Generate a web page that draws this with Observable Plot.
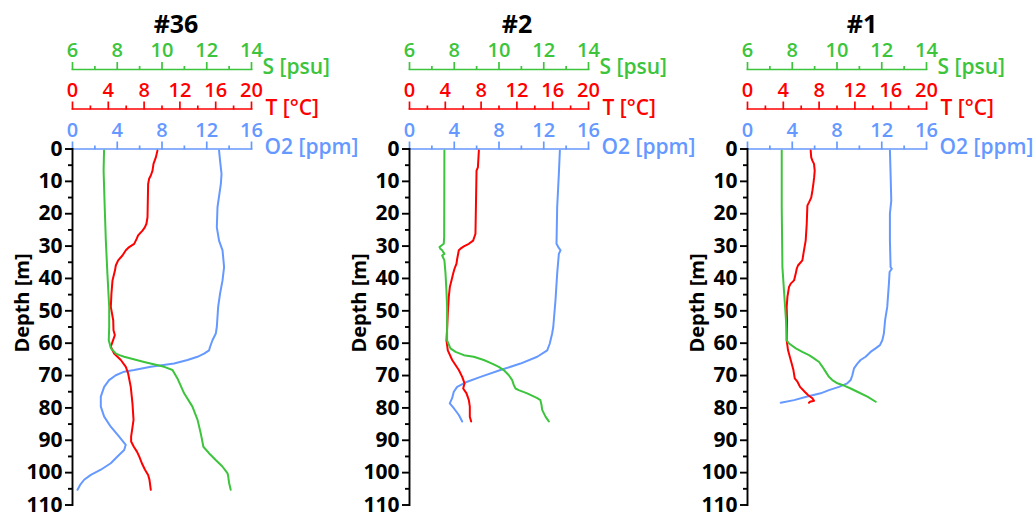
<!DOCTYPE html>
<html><head><meta charset="utf-8">
<script src="https://cdn.jsdelivr.net/npm/d3@7"></script>
<script src="https://cdn.jsdelivr.net/npm/@observablehq/plot@0.6"></script>
<style>
html,body{margin:0;padding:0;background:#fff;overflow:hidden}
#chart{position:relative;width:1036px;height:515px;overflow:hidden;background:#fff}
#chart svg{position:absolute;top:0}
</style></head><body><div id="chart"></div>
<script>
// ---- data: [depth (m), value] ----
const S36 = [[0.5,7.41],[6.7,7.39],[18,7.44],[28.3,7.49],[38.5,7.56],[48.8,7.64],[55,7.64],[59.1,7.62],[61.6,7.72],[63.2,7.94],[63.7,8.1],[64.2,8.31],[65.8,9.2],[67.3,10.1],[68.3,10.47],[70.9,10.69],[75.5,10.99],[79.6,11.36],[83.7,11.59],[87.8,11.73],[92,11.85],[94,12.1],[96.1,12.4],[98.1,12.7],[100.2,12.93],[101.2,12.96],[103.2,13.0],[105.3,13.07]];
const T36 = [[0.5,9.49],[2.6,9.31],[4.6,9.05],[6.7,8.94],[8.2,8.75],[9.2,8.56],[10.8,8.45],[21.1,8.38],[23.1,8.26],[24.2,8.08],[25.2,7.82],[26.7,7.33],[27.7,7.18],[29.3,6.89],[30.3,6.33],[31.3,5.96],[32.9,5.58],[34.4,5.1],[36.0,4.84],[37.5,4.75],[40.6,4.47],[44.7,4.35],[48.8,4.28],[52.9,4.55],[56,4.58],[57.5,4.73],[59.6,4.47],[61.1,4.28],[63.2,4.65],[65.2,5.4],[67.3,5.96],[69.3,6.21],[73.5,6.51],[78.6,6.7],[83.7,6.82],[88.9,6.55],[90.4,6.55],[92,6.85],[93.5,7.2],[95,7.45],[97.1,7.75],[99.1,8.1],[100.7,8.45],[102.2,8.6],[105.3,8.75]];
const O36 = [[0.5,13.1],[3.6,13.19],[7.7,13.32],[10.8,13.26],[18,12.96],[24.2,12.9],[28.3,13.1],[31.3,13.41],[36.5,13.55],[40.6,13.41],[44.7,13.19],[48.8,13.02],[55,12.9],[57,12.81],[59.1,12.51],[61.1,12.3],[62.2,12.21],[63.2,11.76],[64.2,11.17],[65.2,10.28],[66.3,9.08],[67.3,7.0],[68.3,5.51],[68.8,4.62],[69.9,3.87],[71.4,3.27],[73.5,2.83],[76.5,2.53],[79.6,2.53],[82.7,2.83],[85.8,3.42],[88.9,4.17],[91.4,4.76],[93,4.62],[95,4.02],[97.1,3.42],[99.1,2.53],[100.7,1.64],[102.2,1.04],[103.8,0.68],[105.3,0.45]];

const S2 = [[0.5,7.56],[27.2,7.55],[29.3,7.53],[30.3,7.34],[30.8,7.38],[31.3,7.46],[32.4,7.56],[32.9,7.46],[34.4,7.56],[38.5,7.61],[43.7,7.65],[48.8,7.68],[59.1,7.68],[61.6,7.83],[62.7,8.06],[63.7,8.43],[64.2,8.87],[65.2,9.32],[66.3,9.69],[67.3,9.99],[68.3,10.21],[69.9,10.44],[71.4,10.59],[72.9,10.66],[74.0,10.74],[74.5,10.88],[75.5,11.26],[77.0,11.71],[77.6,11.85],[79.1,11.9],[80.6,11.93],[82.7,12.08],[83.7,12.18],[84.2,12.23]];
const T2 = [[0.5,7.75],[5.7,7.64],[6.7,7.49],[26.2,7.37],[28.3,7.11],[29.3,6.63],[30.1,6.07],[30.8,5.7],[31.3,5.51],[32.9,5.4],[33.9,5.33],[35.4,5.25],[37.0,5.03],[38.5,4.88],[40.6,4.69],[42.6,4.51],[45.7,4.39],[50.8,4.28],[55,4.21],[59.1,4.13],[62.2,4.28],[65.2,4.77],[68.3,5.51],[70.4,5.89],[72.4,6.15],[74.0,6.0],[75.5,6.37],[77.6,6.63],[79.6,6.74],[82.7,6.74],[84.2,6.89]];
const O2 = [[0.5,13.44],[7.7,13.35],[18,13.2],[29.3,13.14],[30.3,13.3],[31.3,13.5],[32.4,13.35],[38.5,13.2],[46.7,13.05],[55,12.85],[57,12.75],[60.1,12.54],[62.2,12.31],[64.2,11.42],[66.3,9.92],[68.3,8.13],[70.4,6.35],[71.9,5.16],[73.5,4.26],[75,3.96],[77,3.81],[78.6,3.6],[80.1,3.96],[82.2,4.41],[84.2,4.71]];

const S1 = [[0.5,7.53],[18,7.53],[36.5,7.56],[44.7,7.64],[52.9,7.72],[59.1,7.75],[60.1,7.86],[61.6,8.16],[62.7,8.45],[63.7,8.75],[64.7,8.97],[65.8,9.2],[67.3,9.35],[68.8,9.49],[70.4,9.64],[71.4,9.79],[72.4,10.02],[72.9,10.24],[74.0,10.61],[75.0,10.91],[76.5,11.36],[78.1,11.73]];
const T1 = [[0.5,7.06],[2.6,7.12],[3.6,7.25],[4.6,7.43],[6.7,7.51],[8.7,7.45],[10.8,7.36],[12.9,7.25],[15.0,7.12],[16.5,6.87],[17.5,6.69],[23.1,6.62],[28.3,6.5],[31.3,6.31],[34.4,6.13],[36.0,5.64],[37.0,5.5],[38.5,5.39],[40.6,5.2],[41.6,4.83],[42.6,4.64],[45.7,4.46],[48.8,4.38],[52.9,4.42],[59.1,4.38],[62.2,4.53],[65.2,4.83],[68.3,5.13],[70.9,5.28],[71.9,5.58],[73.5,5.87],[75.0,6.39],[76.0,6.76],[77.0,7.25],[77.8,7.43],[78.1,6.98],[78.4,6.87]];
const O1 = [[0.5,12.73],[7.7,12.79],[16,12.85],[20,12.73],[28.3,12.73],[36.5,12.79],[37,12.9],[38,12.7],[41.6,12.64],[48.8,12.49],[52.9,12.3],[57,12.19],[59.1,12.05],[60.6,11.84],[61.6,11.45],[62.7,11.0],[64.2,10.56],[65.2,10.11],[66.3,9.82],[67.8,9.52],[69.9,9.37],[71.4,9.22],[72.4,8.92],[73.5,8.18],[74.5,7.28],[75.5,6.54],[76.5,5.35],[77.6,4.16],[78.4,2.97]];

const stations = ["#36", "#2", "#1"];
const salinity = [S36, S2, S1];
const temperature = [T36, T2, T1];
const oxygen = [O36, O2, O1];

const sTicks = [6, 8, 10, 12, 14], sMinor = [7, 9, 11, 13];
const tTicks = [0, 4, 8, 12, 16, 20], tMinor = [2, 6, 10, 14, 18];
const oTicks = [0, 4, 8, 12, 16], oMinor = [2, 6, 10, 14];
const depthTicks = [0, 10, 20, 30, 40, 50, 60, 70, 80, 90, 100, 110];
const depthMinor = [5, 15, 25, 35, 45, 55, 65, 75, 85, 95, 105];

// ---- styling / layout ----
const GREEN = "#3cc43c", RED = "#ff0000", BLUE = "#6699ff";
const FONT = "'Open Sans', 'DejaVu Sans', sans-serif";
const panelLeft = [0, 337, 675];
const titleDx = [14, 18, 25];
const FRAME_W = 179, ML = 72, H = 515;
const Y_RANGE = [148.5, 504.5];

const chart = document.getElementById("chart");

function variablePlot(p, cfg) {
  const W = p === 2 ? 1036 - panelLeft[p] : 400;
  const marks = [
    Plot.frame({anchor: "top", stroke: cfg.color, strokeWidth: 1.7}),
    Plot.axisX(cfg.ticks, {anchor: "top", label: null, color: cfg.color, fill: "none", tickSize: 8, strokeWidth: 1.7}),
    Plot.axisX(cfg.minor, {anchor: "top", label: null, color: cfg.color, fill: "none", tickSize: 4, strokeWidth: 1.7}),
    Plot.text(cfg.ticks, {x: d => d, frameAnchor: "top", textAnchor: "middle", lineAnchor: "bottom", dy: -(8 + cfg.pad), fill: cfg.color, fontSize: 20, fontWeight: 600}),
    Plot.text([cfg.label], {frameAnchor: "top-right", textAnchor: "start", lineAnchor: "bottom", dx: cfg.labelDx, dy: cfg.labelDy, fill: cfg.color, fontSize: 21, fontWeight: 600}),
    Plot.line(cfg.data, {x: d => d[1], y: d => d[0], stroke: cfg.color, strokeWidth: 2, curve: "linear"})
  ];
  if (cfg.depthAxis) {
    marks.push(
      Plot.frame({anchor: "left", stroke: "black", strokeWidth: 1.9}),
      Plot.axisY(depthTicks, {anchor: "left", label: null, color: "black", fill: "none", tickSize: 7, strokeWidth: 1.9}),
      Plot.axisY(depthMinor, {anchor: "left", label: null, color: "black", fill: "none", tickSize: 4, strokeWidth: 1.9}),
      Plot.text(depthTicks, {y: d => d, frameAnchor: "left", textAnchor: "end", lineAnchor: "middle", dx: -10, fill: "black", fontSize: 21, fontWeight: "bold"}),
      Plot.text(["Depth [m]"], {frameAnchor: "left", textAnchor: "middle", lineAnchor: "middle", rotate: -90, dx: -50, dy: -24, fill: "black", fontSize: 20, fontWeight: "bold"})
    );
  }
  if (cfg.title) {
    marks.push(Plot.text([stations[p]], {frameAnchor: "top", textAnchor: "middle", lineAnchor: "middle", dx: titleDx[p], dy: -45, fill: "black", fontSize: 25, fontWeight: "bold"}));
  }
  const svg = Plot.plot({
    width: W, height: H,
    marginLeft: ML, marginRight: W - ML - FRAME_W, marginTop: cfg.top, marginBottom: H - Y_RANGE[1],
    x: {domain: cfg.domain, axis: null},
    y: {domain: [0, 110], range: Y_RANGE, axis: null},
    style: {fontFamily: FONT, background: "transparent", overflow: "visible"},
    marks
  });
  svg.style.left = panelLeft[p] + "px";
  chart.appendChild(svg);
}

for (let p = 0; p < 3; p++) {
  variablePlot(p, {top: 148.5, domain: [0, 16], ticks: oTicks, minor: oMinor, color: BLUE, pad: 4, label: "O2 [ppm]", labelDx: 13, labelDy: 5, data: oxygen[p], depthAxis: true});
  variablePlot(p, {top: 108.5, domain: [0, 20], ticks: tTicks, minor: tMinor, color: RED, pad: 4, label: "T [°C]", labelDx: 14, labelDy: 6, data: temperature[p]});
  variablePlot(p, {top: 69, domain: [6, 14], ticks: sTicks, minor: sMinor, color: GREEN, pad: 5, label: "S [psu]", labelDx: 11, labelDy: 4.5, data: salinity[p], title: true});
}
</script></body></html>
